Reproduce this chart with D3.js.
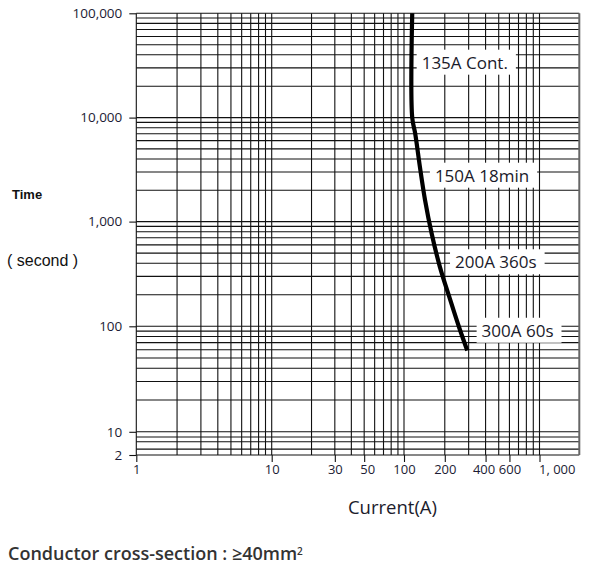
<!DOCTYPE html>
<html><head><meta charset="utf-8">
<script src="https://cdn.jsdelivr.net/npm/d3@7"></script>
<style>
html,body{margin:0;padding:0;background:#fff;}
svg{display:block;}
</style></head>
<body>
<svg id="chart" width="606" height="569"></svg>
<script>
// ---- data ----
const curveCurrent = [115, 115, 121, 131, 143, 160, 184, 220, 255, 293];
const curveTime    = [100000, 10000, 7000, 3370, 1610, 770, 370, 177, 98, 59];

const labelTexts   = ["135A Cont.", "150A 18min", "200A 360s", "300A 60s"];
const labelCurrent = [135, 169, 238, 374];
const labelTime    = [33700, 2770, 410, 91];

const xTickValues = [1, 10, 30, 50, 100, 200, 400, 600, 1000];
const xTickLabels = ["1", "10", "30", "50", "100", "200", "400", "600", "1, 000"];
const yTickValues = [2, 10, 100, 1000, 10000, 100000];
const yTickLabels = ["2", "10", "100", "1,000", "10,000", "100,000"];

const xDecades = [1, 10, 100];            // full decades with 1..9 grid lines
const xExtent  = [1, 10, 100, 1000, 2000];
const yDecades = [10, 100, 1000, 10000];
const yLowGrid = [2, 3, 5, 7];            // compressed bottom band
const yExtent  = [2, 10, 100, 1000, 10000, 100000];

// ---- scales ----
const x = d3.scaleLog().domain(xExtent).range([136.3, 271.7, 404, 539.5, 579.3]);
const y = d3.scaleLog().domain(yExtent).range([455, 431.8, 326.3, 221.6, 117.6, 13.3]);

const svg = d3.select("#chart");

// grid values
const xGrid = [];
xDecades.forEach(d => { for (let m = 1; m <= 9; m++) xGrid.push(d * m); });
xGrid.push(1000);
const yGrid = yLowGrid.slice();
yDecades.forEach(d => { for (let m = 1; m <= 9; m++) yGrid.push(d * m); });
yGrid.push(100000);

const grid = svg.append("g").attr("stroke", "#111").attr("stroke-width", 1.1);
grid.selectAll("line.v").data(xGrid).join("line").attr("class", "v")
  .attr("x1", d => x(d)).attr("x2", d => x(d))
  .attr("y1", y(100000)).attr("y2", y(2));
grid.selectAll("line.h").data(yGrid).join("line").attr("class", "h")
  .attr("x1", x(1)).attr("x2", x(2000))
  .attr("y1", d => y(d)).attr("y2", d => y(d));
// right border
grid.append("line").attr("x1", x(2000)).attr("x2", x(2000))
  .attr("y1", y(100000)).attr("y2", y(2)).attr("stroke", "#666").attr("stroke-width", 2);

// axes
const axisFont = "'Open Sans', 'Noto Sans', sans-serif";
const yAxis = svg.append("g").attr("transform", `translate(${x(1)},0)`)
  .call(d3.axisLeft(y).tickValues(yTickValues)
    .tickFormat((d, i) => yTickLabels[i]).tickSize(7).tickPadding(7));
const xAxis = svg.append("g").attr("transform", `translate(0,${y(2)})`)
  .call(d3.axisBottom(x).tickValues(xTickValues)
    .tickFormat((d, i) => xTickLabels[i]).tickSize(7).tickPadding(3));
[xAxis, yAxis].forEach(a => {
  a.select(".domain").remove();
  a.selectAll(".tick line").attr("stroke", "#111").attr("stroke-width", 1.1);
  a.selectAll(".tick text").attr("fill", "#1c1c34")
    .style("font-family", axisFont).style("font-size", "13px");
});
yAxis.selectAll(".tick text").style("font-size", "13.5px");
xAxis.selectAll(".tick text").filter((d) => d === 1000)
  .attr("text-anchor", "start").attr("x", -1);
xAxis.selectAll(".tick text").filter((d) => d === 400).attr("x", -2);
xAxis.selectAll(".tick text").filter((d) => d === 50).attr("x", 3);

// label boxes + labels
const lg = svg.append("g");
labelTexts.forEach((t, i) => {
  const g = lg.append("g");
  const txt = g.append("text")
    .attr("x", x(labelCurrent[i])).attr("y", y(labelTime[i]))
    .attr("dy", "0.36em")
    .attr("fill", "#1a1a2a")
    .style("font-family", axisFont).style("font-size", "17px")
    .text(t);
  const bb = txt.node().getBBox();
  g.insert("rect", "text")
    .attr("x", bb.x - 5).attr("y", bb.y - 1)
    .attr("width", bb.width + 13).attr("height", bb.height + 2)
    .attr("fill", "#fff");
});

// curve
const pts = curveCurrent.map((c, i) => [x(c), y(curveTime[i])]);
svg.append("path")
  .attr("d", d3.line().curve(d3.curveCatmullRom.alpha(0.5))(pts))
  .attr("fill", "none").attr("stroke", "#000").attr("stroke-width", 4.2);

// axis titles
svg.append("text").attr("x", 12).attr("y", 199)
  .style("font-family", "'Liberation Sans', Arial, sans-serif")
  .style("font-weight", "bold").style("font-size", "13px").attr("fill", "#111")
  .text("Time");
svg.append("text").attr("x", 7).attr("y", 266)
  .style("font-family", "'Liberation Sans', Arial, sans-serif")
  .style("font-size", "16px").attr("fill", "#111")
  .text("( second )");
svg.append("text").attr("x", 392.5).attr("y", 514).attr("text-anchor", "middle")
  .style("font-family", axisFont).style("font-size", "18.5px").attr("fill", "#1c1c2c")
  .text("Current(A)");

const cap = svg.append("text").attr("x", 8).attr("y", 560)
  .style("font-family", axisFont).style("font-weight", "600")
  .style("font-size", "18px").attr("fill", "#333");
cap.append("tspan").text("Conductor cross-section : ≥40mm");
cap.append("tspan").attr("dy", "-0.5em").style("font-size", "10px").text("2");
</script>
</body></html>
